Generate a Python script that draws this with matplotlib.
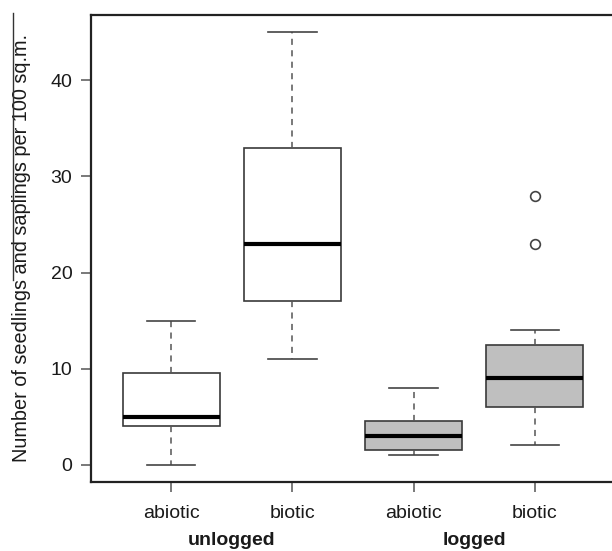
import matplotlib
matplotlib.use('Agg')
import matplotlib.pyplot as plt
import matplotlib.transforms as transforms
from matplotlib.lines import Line2D

plt.rcParams['font.family'] = ['Liberation Sans', 'DejaVu Sans']
plt.rcParams['font.size'] = 14

# box summaries per group (unlogged abiotic/biotic, logged abiotic/biotic)
tick_labels = ['abiotic', 'biotic', 'abiotic', 'biotic']
group_labels = ['unlogged', 'logged']
whisker_lo = [0, 11, 1, 2]
q1 = [4, 17, 1.5, 6]
median = [5, 23, 3, 9]
q3 = [9.5, 33, 4.5, 12.5]
whisker_hi = [15, 45, 8, 14]
outliers = [[], [], [], [23, 28]]
fills = ['white', 'white', '#bfbfbf', '#bfbfbf']

stats = []
for i in range(len(tick_labels)):
    stats.append(dict(med=median[i], q1=q1[i], q3=q3[i],
                      whislo=whisker_lo[i], whishi=whisker_hi[i],
                      fliers=outliers[i], label=tick_labels[i]))

fig = plt.figure(figsize=(6.12, 5.51), dpi=100)
ax = fig.add_axes([91/612, 69/551, 524/612, 467/551])

edge = '#3a3a3a'
bp = ax.bxp(stats, positions=[1, 2, 3, 4], widths=0.8, patch_artist=True,
            boxprops=dict(edgecolor=edge, linewidth=1.2),
            medianprops=dict(color='black', linewidth=3, solid_capstyle='butt'),
            whiskerprops=dict(color='#555555', linewidth=1.1, linestyle=(0, (4, 3.5))),
            capprops=dict(color='#444444', linewidth=1.2),
            flierprops=dict(marker='o', markersize=7, markerfacecolor='none',
                            markeredgecolor='#444444', markeredgewidth=1.2),
            capwidths=0.4)
for patch, c in zip(bp['boxes'], fills):
    patch.set_facecolor(c)

ax.set_xlim(0.34, 4.66)
ax.set_ylim(-1.8, 46.8)
ax.set_yticks([0, 10, 20, 30, 40])
ax.set_xticks([1, 2, 3, 4], tick_labels)
for s in ax.spines.values():
    s.set_linewidth(1.6)
    s.set_color('#222222')
ax.tick_params(axis='both', direction='out', length=7.5, width=1.1, color='#555555',
               labelcolor='#1a1a1a', labelsize=14)
ax.tick_params(axis='y', pad=6)
ax.tick_params(axis='x', pad=9)

ax.set_ylabel('Number of seedlings and saplings per 100 sq.m.', fontsize=14.3,
              color='#1a1a1a', labelpad=14)

# treatment names under each pair of boxes
trans = transforms.blended_transform_factory(ax.transData, fig.transFigure)
for xpos, name in zip([1.5, 3.5], group_labels):
    ax.text(xpos, 6/551, name, transform=trans, ha='center', va='baseline',
            fontsize=14, fontweight='bold', color='#1a1a1a')

fig.add_artist(Line2D([13/612, 13/612], [1 - 13/551, 1 - 280/551],
                      transform=fig.transFigure, color='#333333', linewidth=1))

fig.savefig('out.png', dpi=100)
